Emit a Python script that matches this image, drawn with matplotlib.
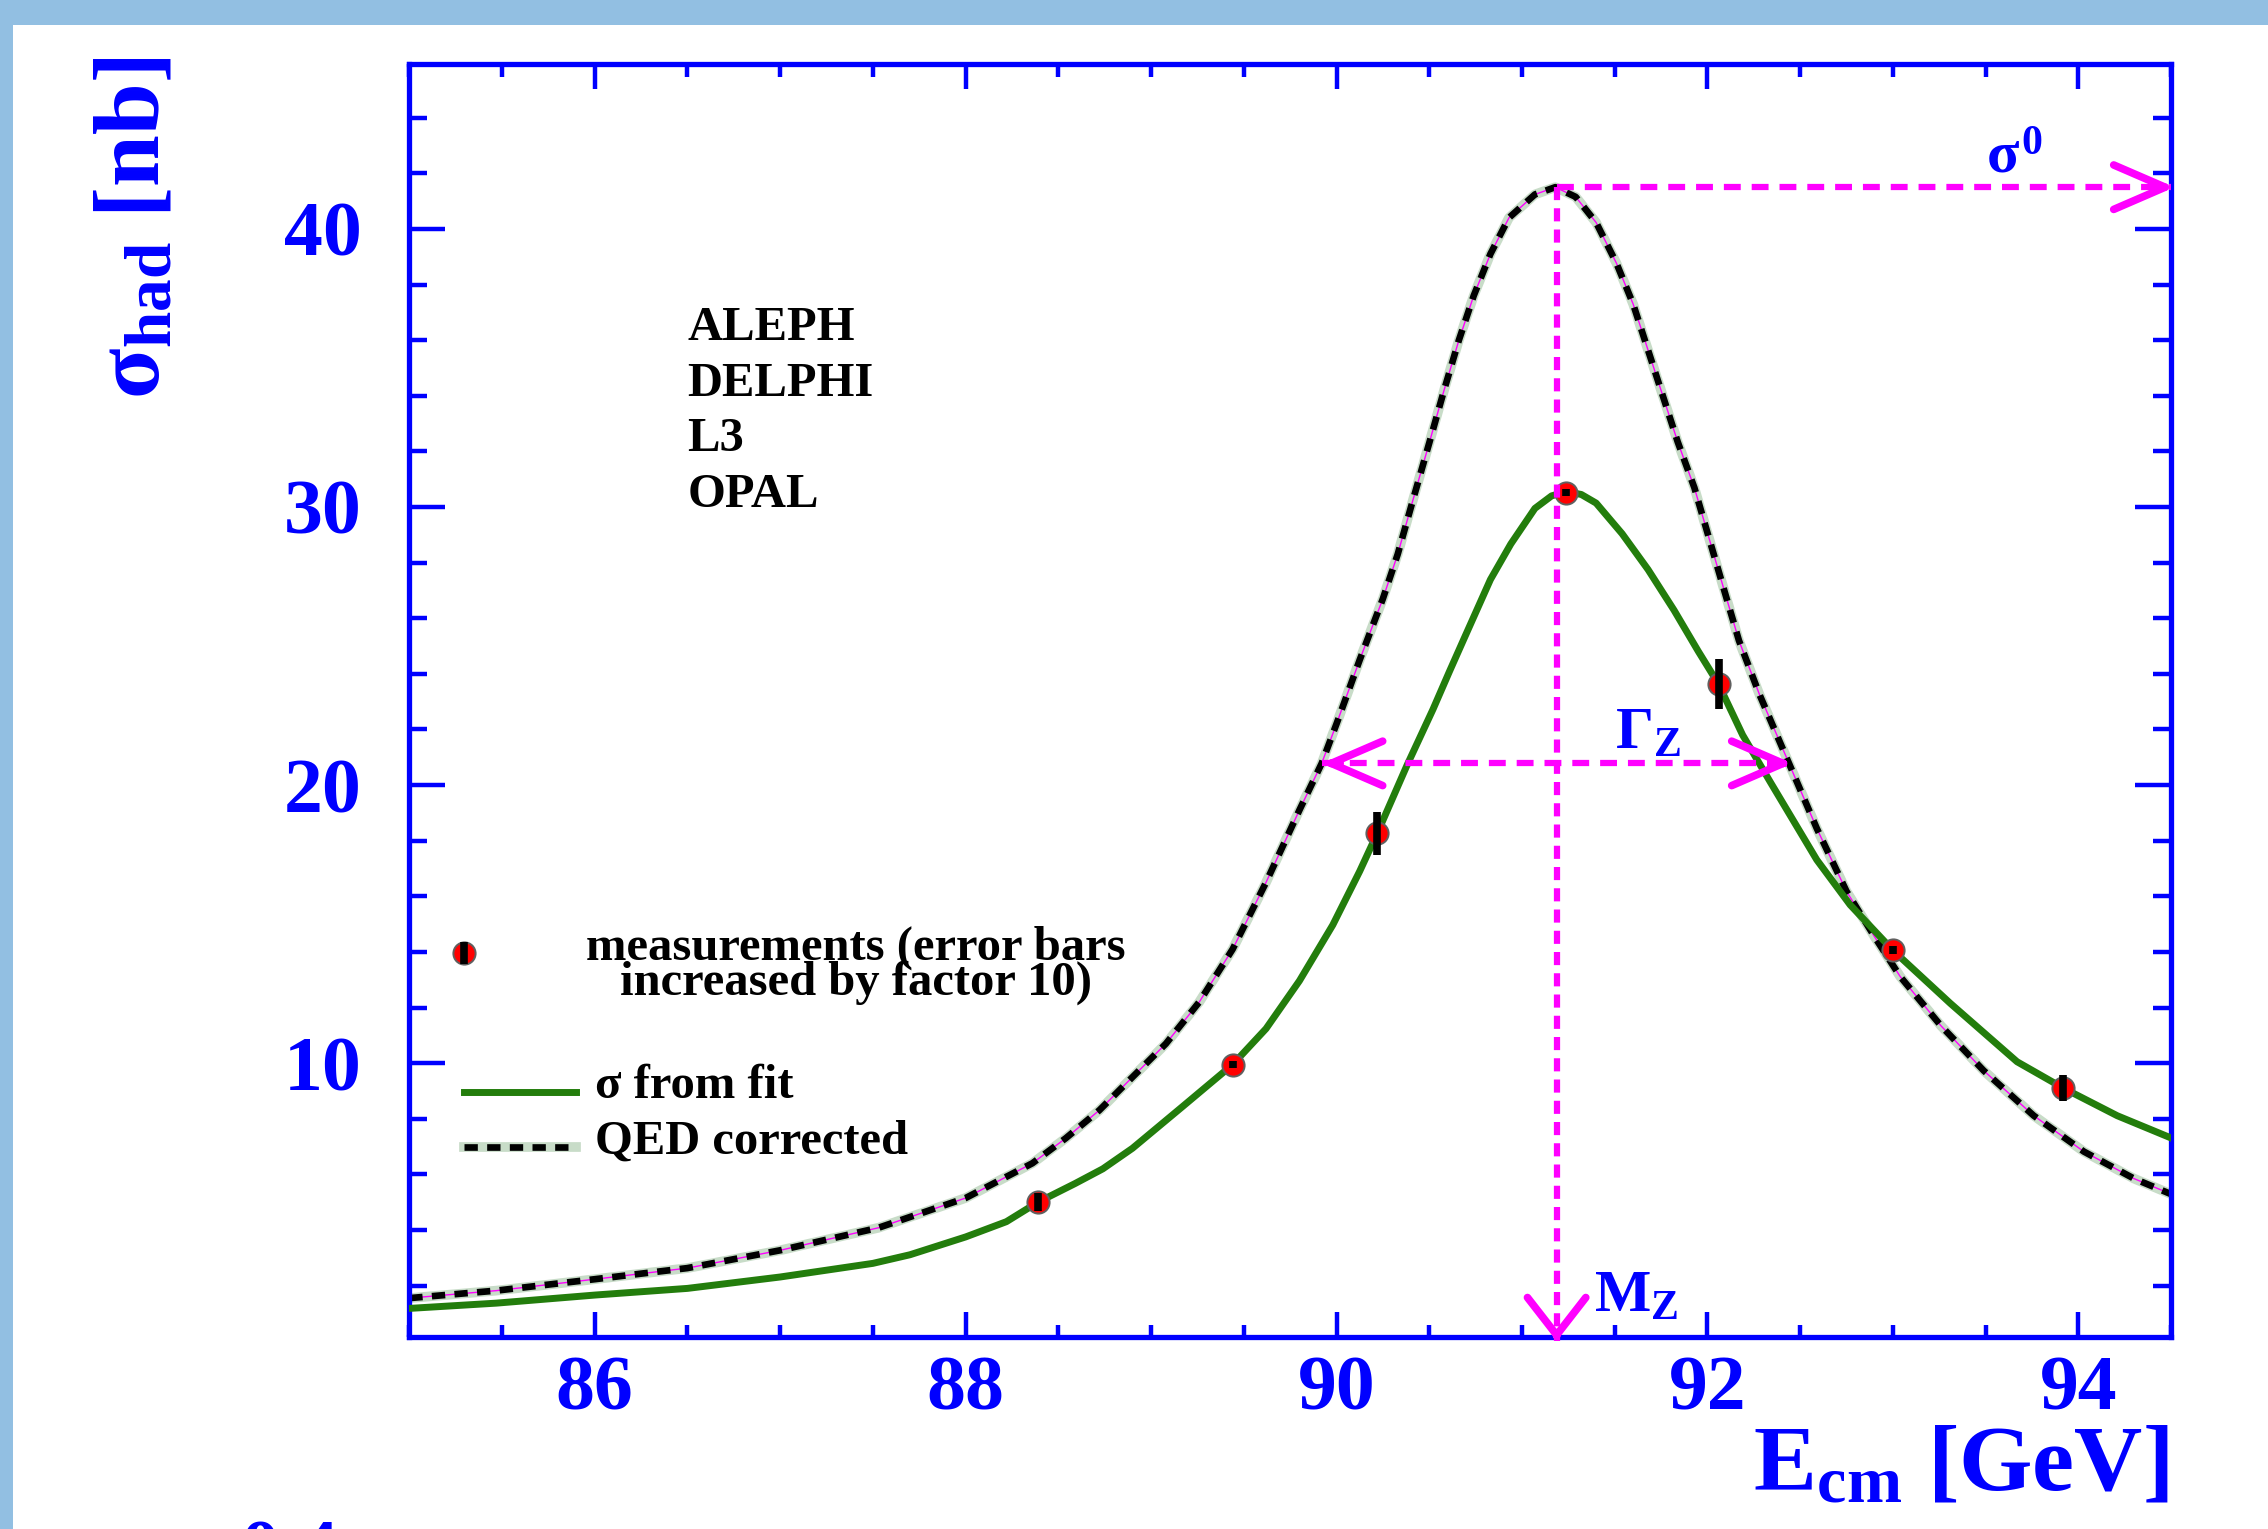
"""
Z line shape: hadronic cross section vs centre-of-mass energy
(LEP measurements, fitted curve and QED corrected curve).
Saves the figure as out.png.
"""

import matplotlib
matplotlib.use("Agg")
import matplotlib.pyplot as plt
from matplotlib.patches import Rectangle
from matplotlib.ticker import MultipleLocator


# ---------------------------------------------------------------------------
# Data
# ---------------------------------------------------------------------------
# measurements (error bars already x10, as in the plot)
E_MEAS = [88.39, 89.44, 90.22, 91.24, 92.06, 93.00, 93.92]
SIG_MEAS = [5.0, 9.95, 18.27, 30.52, 23.63, 14.06, 9.10]
ERR_MEAS = [0.32, 0.12, 0.77, 0.12, 0.89, 0.15, 0.47]

# sigma from fit (green curve)
E_FIT = [85.0, 85.47, 86.0, 86.5, 87.0, 87.5, 87.70, 88.0, 88.22, 88.39,
         88.59, 88.74, 88.90, 89.17, 89.44, 89.62, 89.80, 89.98, 90.125,
         90.22, 90.38, 90.52, 90.61, 90.69, 90.83, 90.94, 91.07, 91.16,
         91.24, 91.32, 91.40, 91.54, 91.68, 91.82, 91.95, 92.06, 92.19,
         92.34, 92.59, 92.77, 93.00, 93.31, 93.67, 93.92, 94.21, 94.50]
SIG_FIT = [1.18, 1.37, 1.66, 1.90, 2.31, 2.80, 3.11, 3.75, 4.30, 5.00,
           5.67, 6.20, 6.94, 8.44, 9.95, 11.24, 12.96, 14.97, 16.90,
           18.27, 20.71, 22.72, 24.10, 25.30, 27.39, 28.67, 29.95, 30.40,
           30.55, 30.45, 30.14, 29.04, 27.75, 26.29, 24.82, 23.63, 21.80,
           20.10, 17.31, 15.69, 14.06, 12.15, 10.05, 9.10, 8.11, 7.31]

# QED corrected (black dashed curve)
E_QED = [85.0, 85.47, 86.0, 86.5, 87.0, 87.53, 88.0, 88.36, 88.54, 88.72,
         88.90, 89.08, 89.26, 89.44, 89.62, 89.80, 89.92, 90.0, 90.125,
         90.25, 90.33, 90.41, 90.50, 90.58, 90.66, 90.74, 90.83, 90.93,
         91.07, 91.18, 91.29, 91.40, 91.51, 91.60, 91.68, 91.76, 91.84,
         91.93, 92.01, 92.09, 92.17, 92.28, 92.44, 92.59, 92.75, 92.90,
         93.04, 93.26, 93.49, 93.76, 94.03, 94.30, 94.50]
SIG_QED = [1.55, 1.82, 2.23, 2.63, 3.27, 4.08, 5.15, 6.40, 7.30, 8.30,
           9.50, 10.70, 12.20, 14.10, 16.50, 19.10, 20.78, 22.20, 24.50,
           26.70, 28.30, 30.20, 32.30, 34.20, 36.00, 37.60, 39.10, 40.40,
           41.24, 41.50, 41.15, 40.23, 38.76, 37.29, 35.64, 33.99, 32.34,
           30.69, 28.85, 27.02, 25.20, 23.27, 20.78, 18.44, 16.18, 14.56,
           13.11, 11.34, 9.73, 8.11, 6.82, 5.85, 5.29]

EXPERIMENTS = ["ALEPH", "DELPHI", "L3", "OPAL"]

# Z parameters marked on the plot
M_Z = 91.187
SIGMA0 = 41.5
HALF_MAX = 20.78
GAMMA_LO, GAMMA_HI = 89.92, 92.46

X_MIN, X_MAX = 85.0, 94.5
Y_MIN, Y_MAX = 0.17, 45.93

# ---------------------------------------------------------------------------
# Style
# ---------------------------------------------------------------------------
BLUE = "#0000ff"
MAGENTA = "#ff00ff"
GREEN = "#237d0c"
HALO = "#c8dcc8"
SLIDE_BG = "#92bfe2"

plt.rcParams["font.family"] = ["Liberation Serif", "DejaVu Serif"]
plt.rcParams["font.weight"] = "bold"
plt.rcParams["mathtext.fontset"] = "custom"
plt.rcParams["mathtext.rm"] = "Liberation Serif"
plt.rcParams["mathtext.it"] = "Liberation Serif"
plt.rcParams["mathtext.bf"] = "Liberation Serif:bold"

W, H = 2268, 1529
fig = plt.figure(figsize=(W / 100, H / 100), dpi=100, facecolor=SLIDE_BG)
fig.add_artist(Rectangle((13 / W, 0), 1, 1 - 25 / H, transform=fig.transFigure,
                         facecolor="white", edgecolor="none", zorder=-1))

ax = fig.add_axes([409.3 / W, 1 - 1336.5 / H, (2171 - 409.3) / W,
                   (1336.5 - 64) / H])
ax.set_facecolor("white")
ax.set_xlim(X_MIN, X_MAX)
ax.set_ylim(Y_MIN, Y_MAX)

# ---------------------------------------------------------------------------
# Curves and measurements
# ---------------------------------------------------------------------------
ax.plot(E_FIT, SIG_FIT, color=GREEN, lw=5, solid_joinstyle="round",
        zorder=3)

ax.plot(E_QED, SIG_QED, color=HALO, lw=7, solid_joinstyle="round", zorder=2)
ax.plot(E_QED, SIG_QED, color=MAGENTA, lw=1.0, zorder=2.1)
ax.plot(E_QED, SIG_QED, color="black", lw=4.8, dashes=(2.0, 1.4), zorder=2.2)

ax.plot(E_MEAS, SIG_MEAS, "o", ms=16, mfc="red", mec="#606060", mew=1.4,
        zorder=4)
ax.errorbar(E_MEAS, SIG_MEAS, yerr=ERR_MEAS, fmt="none", ecolor="black",
            elinewidth=5.5, capsize=0, zorder=5)

# ---------------------------------------------------------------------------
# Magenta markers for M_Z, sigma0 and Gamma_Z
# ---------------------------------------------------------------------------
dash_v = (2.1, 1.3)
dash_h = (2.7, 1.75)
ax.plot([M_Z, M_Z], [SIGMA0, 0.0], color=MAGENTA, lw=4.5, dashes=dash_v,
        zorder=6, clip_on=False)
ax.plot([M_Z, X_MAX], [SIGMA0, SIGMA0], color=MAGENTA, lw=4.5,
        dashes=dash_h, zorder=6, clip_on=False)
ax.plot([GAMMA_LO, GAMMA_HI], [HALF_MAX, HALF_MAX], color=MAGENTA, lw=4.5,
        dashes=dash_h, zorder=6)


def open_head(tip, back, hl, hw):
    ax.annotate("", xy=tip, xytext=back, xycoords="data",
                arrowprops=dict(arrowstyle=f"->,head_length={hl},head_width={hw}",
                                color=MAGENTA, lw=5.5, shrinkA=0, shrinkB=0,
                                mutation_scale=10),
                annotation_clip=False, zorder=6)


open_head((M_Z, 0.0), (M_Z, 0.3), 2.7, 2.1)
open_head((X_MAX + 0.02, SIGMA0), (X_MAX - 0.1, SIGMA0), 3.7, 1.6)
open_head((GAMMA_LO, HALF_MAX), (GAMMA_LO + 0.1, HALF_MAX), 3.7, 1.6)
open_head((GAMMA_HI, HALF_MAX), (GAMMA_HI - 0.1, HALF_MAX), 3.7, 1.6)

ax.text(93.5, 42.0, r"$\sigma^0$", color=BLUE, fontsize=43,
        ha="left", va="baseline", zorder=7)
ax.text(91.5, 21.29, r"$\Gamma_Z$", color=BLUE, fontsize=43,
        ha="left", va="baseline", zorder=7)
ax.text(91.39, 1.05, r"$M_Z$", color=BLUE, fontsize=43,
        ha="left", va="baseline", zorder=7)

# ---------------------------------------------------------------------------
# Experiments and legend
# ---------------------------------------------------------------------------
for i, name in enumerate(EXPERIMENTS):
    ax.text(86.5, 36.0 - 2.0 * i, name, fontsize=35, va="baseline")

ax.plot([85.294], [13.97], "o", ms=16, mfc="red", mec="#606060", mew=1.4,
        zorder=4)
ax.errorbar([85.294], [13.97], yerr=[0.39], fmt="none", ecolor="black",
            elinewidth=5.5, capsize=0, zorder=5)
# baseline of the second (last) line
ax.text(87.41, 12.47, "measurements (error bars\nincreased by factor 10)",
        fontsize=35, ha="center", va="baseline", multialignment="center",
        linespacing=0.70)

ax.plot([85.294, 85.897], [8.97, 8.97], color=GREEN, lw=5)
ax.text(86.0, 8.76, "σ from fit", fontsize=35, va="baseline")
ax.plot([85.294, 85.897], [6.98, 6.98], color=HALO, lw=7)
ax.plot([85.294, 85.897], [6.98, 6.98], color="black", lw=4.8,
        dashes=(2.0, 1.4))
ax.text(86.0, 6.74, "QED corrected", fontsize=35, va="baseline")

# ---------------------------------------------------------------------------
# Axes, ticks, labels
# ---------------------------------------------------------------------------
ax.xaxis.set_major_locator(MultipleLocator(2))
ax.xaxis.set_minor_locator(MultipleLocator(0.5))
ax.yaxis.set_major_locator(MultipleLocator(10))
ax.yaxis.set_minor_locator(MultipleLocator(2))

ax.tick_params(which="both", direction="in", top=True, right=True,
               colors=BLUE, labelcolor=BLUE)
ax.tick_params(axis="x", which="major", length=18, width=3.2, pad=14,
               labelsize=56)
ax.tick_params(axis="x", which="minor", length=9, width=3.2)
ax.tick_params(axis="y", which="major", length=26, width=3.2, pad=34,
               labelsize=56)
ax.tick_params(axis="y", which="minor", length=13, width=3.2)

for spine in ax.spines.values():
    spine.set_color(BLUE)
    spine.set_linewidth(3.8)

fig.text(137 / W, 1 - 228 / H, r"$\mathbf{\sigma_{had}}$ [nb]", color=BLUE,
         fontsize=67, rotation=90, ha="center", va="center")
fig.text(2169 / W, 1 - 1491 / H, r"$\mathbf{E_{cm}}$ [GeV]", color=BLUE,
         fontsize=68, ha="right", va="baseline")

# piece of the next plot, cut by the slide border
fig.text(241 / W, 1 - 1519 / H, "0.4", color=BLUE, fontsize=56,
         ha="left", va="top")

fig.savefig("out.png", dpi=100, facecolor=fig.get_facecolor())
